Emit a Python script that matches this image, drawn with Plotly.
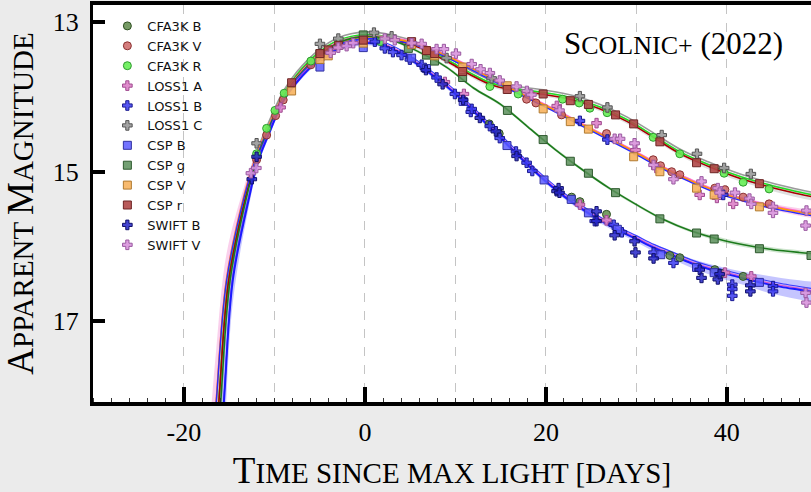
import plotly.graph_objects as go

# ---------------- model light-curve knots (days since max, apparent mag) ----------------
R_DAYS = [-16.9, -16.15, -15.05, -13.1, -11.95, -10.85, -9.0, -7.5, -5.0, -3.0, 0.0, 3.0, 6.0, 9.0, 11.6,
          14.0, 17.0, 20.0, 23.0, 26.0, 29.0, 32.0, 35.0, 38.0, 41.0, 44.0, 47.0, 50.0]
R_MAGS = [19.3, 18.1, 16.45, 15.3, 14.8, 14.46, 13.98, 13.72, 13.42, 13.27, 13.19, 13.23, 13.34, 13.52, 13.7,
          13.84, 13.92, 13.97, 14.04, 14.16, 14.33, 14.55, 14.77, 14.93, 15.07, 15.18, 15.27, 15.35]
R_ERR = [0.6, 0.5, 0.25, 0.1, 0.05, 0.04, 0.03, 0.03, 0.03, 0.03, 0.03, 0.03, 0.03, 0.03, 0.03,
         0.03, 0.03, 0.03, 0.03, 0.03, 0.03, 0.03, 0.03, 0.04, 0.04, 0.04, 0.05, 0.05]

V_DAYS = [-17.2, -16.45, -15.3, -13.3, -12.1, -10.95, -9.1, -7.5, -5.0, -3.0, 0.0, 3.0, 6.0, 9.0, 12.0,
          15.0, 18.0, 21.0, 24.0, 27.0, 30.0, 33.0, 36.0, 39.0, 42.0, 45.0, 48.0, 50.0]
V_MAGS = [19.3, 18.1, 16.45, 15.3, 14.82, 14.48, 14.0, 13.74, 13.44, 13.28, 13.2, 13.22, 13.3, 13.45, 13.63,
          13.82, 14.0, 14.18, 14.37, 14.56, 14.75, 14.95, 15.12, 15.27, 15.38, 15.47, 15.54, 15.58]
V_ERR = [0.8, 0.7, 0.35, 0.12, 0.06, 0.04, 0.03, 0.03, 0.02, 0.02, 0.02, 0.02, 0.02, 0.02, 0.02,
         0.02, 0.02, 0.02, 0.02, 0.02, 0.02, 0.02, 0.03, 0.03, 0.03, 0.04, 0.05, 0.05]

G_DAYS = [-16.7, -15.95, -14.9, -13.0, -11.9, -10.8, -9.0, -7.5, -5.0, -3.0, 0.0, 3.0, 6.0, 9.0, 12.0,
          15.0, 18.0, 21.0, 24.0, 27.0, 30.0, 33.0, 36.0, 39.0, 42.0, 45.0, 48.0, 50.0]
G_MAGS = [19.3, 18.1, 16.45, 15.3, 14.82, 14.48, 14.0, 13.74, 13.44, 13.28, 13.19, 13.24, 13.4, 13.6, 13.88,
          14.1, 14.4, 14.7, 14.97, 15.22, 15.44, 15.64, 15.79, 15.9, 15.98, 16.04, 16.08, 16.1]
G_ERR = [0.5, 0.4, 0.2, 0.08, 0.04, 0.03, 0.02, 0.02, 0.02, 0.02, 0.02, 0.02, 0.02, 0.02, 0.02,
         0.02, 0.02, 0.02, 0.02, 0.02, 0.02, 0.02, 0.02, 0.03, 0.03, 0.03, 0.03, 0.03]

B_DAYS = [-16.4, -15.6, -14.6, -12.8, -11.8, -10.7, -9.0, -7.5, -5.0, -3.0, 0.0, 2.0, 4.0, 6.0, 8.0, 10.0,
          12.0, 14.0, 16.0, 18.0, 20.0, 22.0, 24.0, 26.0, 28.0, 30.0, 32.0, 34.0, 36.0, 38.0, 40.0, 42.0,
          44.0, 46.0, 48.0, 50.0]
B_MAGS = [19.3, 18.1, 16.45, 15.35, 14.86, 14.52, 14.05, 13.8, 13.5, 13.36, 13.28, 13.31, 13.42, 13.58, 13.76,
          13.96, 14.19, 14.43, 14.67, 14.91, 15.13, 15.33, 15.5, 15.65, 15.78, 15.9, 16.02, 16.12, 16.22,
          16.3, 16.37, 16.43, 16.49, 16.54, 16.58, 16.62]
B_ERR = [0.8, 0.6, 0.3, 0.1, 0.05, 0.04, 0.03, 0.03, 0.03, 0.03, 0.03, 0.03, 0.03, 0.03, 0.03,
         0.03, 0.03, 0.03, 0.03, 0.03, 0.03, 0.03, 0.03, 0.04, 0.04, 0.04, 0.05, 0.05, 0.06,
         0.07, 0.08, 0.09, 0.11, 0.12, 0.13, 0.14]

# ---------------- photometry (days since max, apparent mag) ----------------
CFA3K_B_T = [13.74, 14.84, 22.84, 23.76, 26.7, 33.7, 34.8, 38.67, 39.5, 41.8]
CFA3K_B_M = [14.36, 14.49, 15.34, 15.4, 15.57, 16.12, 16.15, 16.31, 16.36, 16.4]

CFA3K_V_T = [-11.97, -10.86, -9.87, -9.03, -5.97, 17.87, 18.9, 21.73, 26.7, 31.86, 32.67, 33.9, 34.8,
             38.67, 39.78, 41.8, 44.67]
CFA3K_V_M = [14.84, 14.51, 14.25, 14.04, 13.57, 14.03, 14.08, 14.24, 14.49, 14.84, 14.92, 15.0, 15.04,
             15.22, 15.24, 15.34, 15.43]

CFA3K_R_T = [-11.97, -10.86, -9.94, -8.92, -5.97, 1.75, 13.81, 16.94, 21.84, 23.68, 24.86, 26.77, 31.86,
             34.8, 39.7, 41.8, 44.67]
CFA3K_R_M = [14.76, 14.42, 14.18, 13.95, 13.52, 13.26, 13.86, 13.96, 14.03, 14.08, 14.15, 14.21, 14.54,
             14.76, 15.02, 15.14, 15.23]

LOSS1_A_T = [-9.32, -4.67, 8.84, 10.94, 21.2, 23.76, 25.6, 26.7, 29.9, 32.2, 37.0, 38.9, 39.8, 40.7, 42.7]
LOSS1_A_M = [14.14, 13.45, 13.8, 13.96, 14.12, 15.44, 14.35, 15.65, 14.71, 14.95, 15.31, 15.35, 16.35,
             15.43, 16.4]

LOSS1_B_T = [1.1, 2.2, 3.1, 4.05, 4.97, 6.27, 7.92, 9.94, 11.7, 11.8, 13.8, 14.9, 16.7, 17.87, 18.5,
             23.76, 25.4, 26.8, 27.5, 28.4, 31.9, 34.1, 39.6, 40.6, 40.6, 40.6, 45.1, 45.1]
LOSS1_B_M = [13.26, 13.35, 13.4, 13.44, 13.5, 13.57, 13.74, 13.96, 14.2, 14.16, 14.39, 14.55, 14.73, 14.88,
             14.99, 14.32, 15.66, 14.57, 15.71, 15.81, 16.08, 16.22, 15.31, 16.51, 16.57, 16.66, 16.53,
             16.6]

LOSS1_C_T = [-11.97, -4.97, -2.94, 1.0, 2.95, 9.03, 14.0, 23.76, 26.8, 32.8, 36.7, 39.7, 42.65]
LOSS1_C_M = [14.62, 13.29, 13.22, 13.14, 13.19, 13.48, 13.75, 13.99, 14.14, 14.51, 14.76, 14.95, 15.03]

CSP_B_T = [-4.97, -0.18, 5.16, 6.8, 10.86, 15.7, 19.8, 22.8, 24.7, 27.9, 32.7, 36.65, 38.6, 43.6]
CSP_B_M = [13.6, 13.34, 13.48, 13.62, 14.06, 14.65, 15.11, 15.37, 15.55, 15.77, 16.11, 16.28, 16.35, 16.48]

CSP_G_T = [-4.97, -0.18, 4.8, 6.8, 7.7, 10.8, 15.75, 19.7, 22.7, 24.7, 27.7, 32.6, 36.65, 38.6, 43.6, 49.3]
CSP_G_M = [13.42, 13.17, 13.35, 13.44, 13.52, 13.74, 14.18, 14.57, 14.86, 15.02, 15.28, 15.63, 15.82, 15.9,
           16.03, 16.12]

CSP_V_T = [-8.1, -4.97, -4.05, -0.18, 5.16, 6.8, 7.7, 10.8, 15.73, 19.7, 22.7, 24.7, 29.7, 32.6, 36.65,
           38.6, 43.6]
CSP_V_M = [13.92, 13.5, 13.45, 13.28, 13.3, 13.38, 13.45, 13.6, 13.85, 14.16, 14.33, 14.43, 14.8, 15.0,
           15.22, 15.31, 15.47]

CSP_R_T = [-8.1, -4.97, -4.05, -2.9, -0.18, 5.16, 6.8, 7.7, 10.8, 15.73, 19.7, 22.7, 24.7, 27.7, 29.7,
           32.6, 36.65, 38.6, 43.6]
CSP_R_M = [13.81, 13.42, 13.37, 13.31, 13.24, 13.26, 13.38, 13.42, 13.66, 13.9, 13.96, 14.05, 14.1, 14.24,
           14.36, 14.6, 14.88, 14.96, 15.16]

SWIFT_B_T = [-12.5, -11.97, 6.74, 8.59, 10.86, 12.7, 14.47, 16.76, 21.18, 21.4, 21.5, 25.6, 25.6, 27.6,
             29.8, 29.9, 31.9, 37.0, 37.2, 39.0, 39.2, 42.6, 42.6]
SWIFT_B_M = [15.1, 14.8, 13.64, 13.83, 14.04, 14.28, 14.46, 14.79, 15.26, 15.22, 15.28, 15.53, 15.66, 15.85,
             15.93, 16.08, 16.16, 16.31, 16.42, 16.44, 16.37, 16.52, 16.6]

SWIFT_V_T = [-12.6, -12.0, -3.79, -2.94, -2.02, -1.29, 2.2, 3.3, 5.16, 6.27, 7.92, 8.73, 10.06, 11.8,
             12.78, 13.81, 14.9, 16.76, 17.9, 18.4, 21.5, 27.6, 28.2, 29.8, 31.9, 34.1, 37.2, 39.0, 39.2,
             40.9, 42.5, 42.7, 45.1, 45.1, 48.8, 48.7, 48.7, 48.8]
SWIFT_V_M = [15.02, 14.95, 13.41, 13.34, 13.32, 13.28, 13.22, 13.24, 13.28, 13.29, 13.36, 13.36, 13.42,
             13.56, 13.63, 13.68, 13.78, 13.86, 13.92, 13.97, 14.18, 14.56, 14.56, 14.62, 14.91, 15.1,
             15.13, 15.22, 15.28, 15.28, 15.36, 15.43, 15.47, 15.55, 15.52, 15.72, 16.62, 16.75]

X_GRID = [-20, -10, 0, 10, 20, 30, 40]
X_LABELS = ['-20', '', '0', '', '20', '', '40']
X_MAJOR = [-20, 0, 20, 40]
Y_TICKS = [13, 15, 17]

SERIF = "Liberation Serif"
SANS = "DejaVu Sans"

fig = go.Figure()


def add_band(days, mags, errs, color):
    lo = [m - e for m, e in zip(mags, errs)]
    hi = [m + e for m, e in zip(mags, errs)]
    fig.add_trace(go.Scatter(x=days, y=lo, mode='lines', line=dict(width=0, shape='spline', color=color),
                             showlegend=False, hoverinfo='skip'))
    fig.add_trace(go.Scatter(x=days, y=hi, mode='lines', line=dict(width=0, shape='spline', color=color),
                             fill='tonexty', fillcolor=color, showlegend=False, hoverinfo='skip'))


def add_line(days, mags, shift, color, width):
    fig.add_trace(go.Scatter(x=days, y=[m + shift for m in mags], mode='lines',
                             line=dict(width=width, shape='spline', color=color),
                             showlegend=False, hoverinfo='skip'))


# bands
add_band(R_DAYS, R_MAGS, R_ERR, 'rgba(150,150,150,0.30)')
add_band(V_DAYS, V_MAGS, V_ERR, 'rgba(240,120,200,0.35)')
add_band(G_DAYS, G_MAGS, G_ERR, 'rgba(60,150,60,0.25)')
add_band(B_DAYS, B_MAGS, B_ERR, 'rgba(110,110,255,0.40)')

# model lines
add_line(R_DAYS, R_MAGS, -0.06, '#9a9a9a', 1.6)
add_line(R_DAYS, R_MAGS, -0.025, '#22dd22', 1.6)
add_line(R_DAYS, R_MAGS, 0.0, '#a80000', 1.6)
add_line(V_DAYS, V_MAGS, -0.015, '#ff66cc', 1.6)
add_line(V_DAYS, V_MAGS, 0.0, '#ff9900', 1.6)
add_line(V_DAYS, V_MAGS, 0.02, '#2a2aff', 1.4)
add_line(G_DAYS, G_MAGS, 0.0, '#1c7a1c', 1.6)
add_line(B_DAYS, B_MAGS, -0.045, '#3a3aff', 1.2)
add_line(B_DAYS, B_MAGS, -0.02, '#dd55cc', 1.2)
add_line(B_DAYS, B_MAGS, 0.0, '#1a1aff', 2.0)

# photometry
SERIES = [
    ('CFA3K B', CFA3K_B_T, CFA3K_B_M, 'circle', 8, 'rgba(94,138,74,0.85)', '#2f5022'),
    ('CFA3K V', CFA3K_V_T, CFA3K_V_M, 'circle', 8, 'rgba(204,102,102,0.85)', '#8a3030'),
    ('CFA3K R', CFA3K_R_T, CFA3K_R_M, 'circle', 8, 'rgba(102,238,85,0.9)', '#2e9a2e'),
    ('LOSS1 A', LOSS1_A_T, LOSS1_A_M, 'cross', 8, 'rgba(221,128,200,0.9)', '#a04c90'),
    ('LOSS1 B', LOSS1_B_T, LOSS1_B_M, 'cross', 8, 'rgba(58,58,240,0.85)', '#1a1a90'),
    ('LOSS1 C', LOSS1_C_T, LOSS1_C_M, 'cross', 8, 'rgba(153,153,153,0.9)', '#555555'),
    ('CSP B', CSP_B_T, CSP_B_M, 'square', 8, 'rgba(91,91,255,0.85)', '#3030a0'),
    ('CSP g', CSP_G_T, CSP_G_M, 'square', 8, 'rgba(91,143,91,0.85)', '#2e5a2e'),
    ('CSP V', CSP_V_T, CSP_V_M, 'square', 8, 'rgba(247,179,94,0.9)', '#b07a30'),
    ('CSP r', CSP_R_T, CSP_R_M, 'square', 8, 'rgba(176,72,72,0.9)', '#6e2424'),
    ('SWIFT B', SWIFT_B_T, SWIFT_B_M, 'cross', 8, 'rgba(36,36,200,0.85)', '#10106a'),
    ('SWIFT V', SWIFT_V_T, SWIFT_V_M, 'cross', 8, 'rgba(216,148,220,0.9)', '#9a5aa0'),
]
for name, t, m, sym, size, fill, edge in SERIES:
    fig.add_trace(go.Scatter(x=t, y=m, mode='markers', name=name,
                             marker=dict(symbol=sym, size=size, color=fill,
                                         line=dict(color=edge, width=1))))

# empty trace to bind overlay axis carrying the big ticks
fig.add_trace(go.Scatter(x=[], y=[], xaxis='x2', showlegend=False, hoverinfo='skip'))

X_RANGE = [-30.05, 49.3]
Y_RANGE = [18.08, 12.77]

fig.update_layout(
    width=811, height=492,
    margin=dict(l=93, r=0, t=5, b=90),
    paper_bgcolor='#ebebeb', plot_bgcolor='white',
    font=dict(family=SERIF, size=26, color='black'),
    showlegend=True,
    legend=dict(x=0.02, y=0.985, xanchor='left', yanchor='top', bgcolor='rgba(0,0,0,0)',
                traceorder='normal',
                font=dict(family=SANS, size=13, color='#111111'), tracegroupgap=0),
    xaxis=dict(range=X_RANGE, autorange=False, tickvals=X_GRID, ticktext=X_LABELS, ticks='',
               showgrid=True, gridcolor='#c4c4c4', griddash='dash', gridwidth=1, zeroline=False,
               showline=True, linecolor='black', linewidth=4, mirror=True,
               minor=dict(dtick=2, tick0=0, ticks='inside', ticklen=4, tickwidth=1, tickcolor='#333333',
                          showgrid=False),
               tickfont=dict(family=SERIF, size=26), ticklabelstandoff=4,
               title=dict(text="T<span style='font-size:29px'>IME SINCE MAX LIGHT [DAYS]</span>",
                          font=dict(family=SERIF, size=37), standoff=12)),
    xaxis2=dict(range=X_RANGE, autorange=False, overlaying='x', anchor='y', side='bottom',
                tickvals=X_MAJOR, ticks='inside', ticklen=15, tickwidth=4, tickcolor='black',
                showticklabels=False, showgrid=False, zeroline=False, showline=False),
    yaxis=dict(range=Y_RANGE, autorange=False, tickvals=Y_TICKS, ticks='inside', ticklen=12, tickwidth=4,
               tickcolor='black', showgrid=False, zeroline=False, showline=True, linecolor='black',
               linewidth=3, tickfont=dict(family=SERIF, size=26), ticklabelstandoff=6,
               title=dict(text="A<span style='font-size:29px'>PPARENT </span>M<span style='font-size:29px'>AGNITUDE</span>",
                          font=dict(family=SERIF, size=37), standoff=8)),
    annotations=[dict(xref='paper', yref='paper', x=0.964, y=0.904, xanchor='right', yanchor='middle',
                      showarrow=False,
                      text="S<span style='font-size:26px'>COLNIC+</span> (2022)",
                      font=dict(family=SERIF, size=31, color='black'))],
)

fig.write_html("out.html")
